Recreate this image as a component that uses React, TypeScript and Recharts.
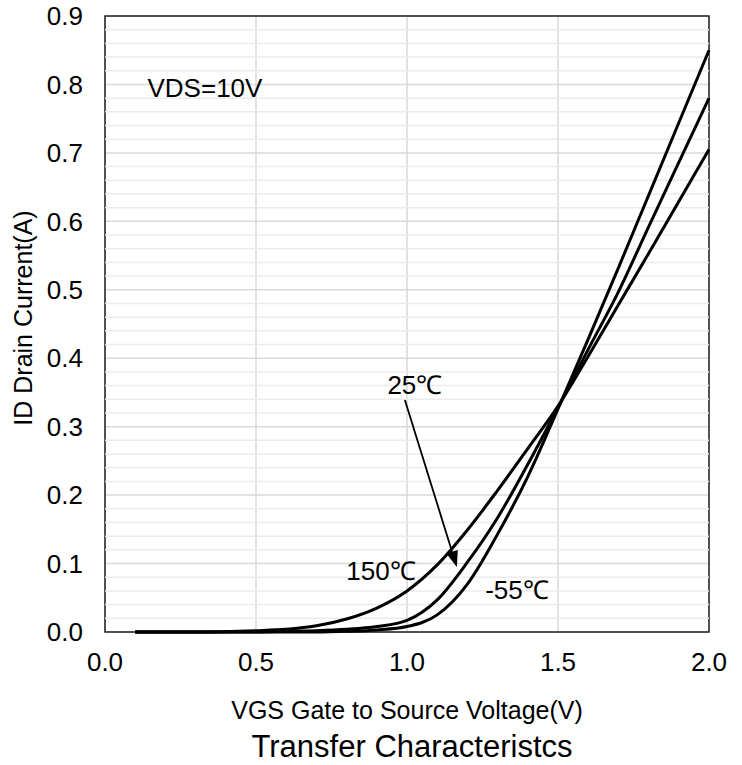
import React from 'react';
import {
  LineChart,
  Line,
  XAxis,
  YAxis,
  CartesianGrid,
  ReferenceLine,
  ReferenceDot,
  ReferenceArea,
} from 'recharts';

// gate voltage (V)
const vgs = [0.1, 0.3, 0.5, 0.6, 0.7, 0.8, 0.9, 1.0, 1.1, 1.2, 1.3, 1.4, 1.5, 1.6, 1.7, 1.8, 1.9, 2.0];
// drain current (A) per temperature
const id150 = [0, 0, 0.002, 0.004, 0.009, 0.019, 0.035, 0.06, 0.098, 0.149, 0.207, 0.268, 0.33, 0.403, 0.478, 0.553, 0.629, 0.705];
const id25 = [0, 0, 0, 0.001, 0.002, 0.004, 0.008, 0.017, 0.047, 0.102, 0.167, 0.245, 0.328, 0.413, 0.497, 0.592, 0.686, 0.78];
const idMinus55 = [0, 0, 0, 0, 0, 0.001, 0.003, 0.008, 0.025, 0.07, 0.143, 0.227, 0.326, 0.428, 0.532, 0.638, 0.744, 0.85];

const xTicks = [0, 0.5, 1.0, 1.5, 2.0];
const yTicks = [0, 0.1, 0.2, 0.3, 0.4, 0.5, 0.6, 0.7, 0.8, 0.9];
// light grid every 0.02 A
const minorY = Array.from({ length: 45 }, (_, i) => +(0.02 * (i + 1)).toFixed(2)).filter(
  (v) => Math.round(v * 100) % 10 !== 0
);

const data = vgs.map((v, i) => ({
  v,
  t150: id150[i],
  t25: id25[i],
  tm55: idMinus55[i],
}));

const FONT = '"Liberation Sans", Arial, sans-serif';

const labelText = (text: string, size = 25) => (p: any) => (
  <text
    x={p.cx}
    y={p.cy}
    textAnchor="middle"
    dominantBaseline="central"
    fontSize={size}
    fontFamily={FONT}
    fill="#000"
  >
    {text}
  </text>
);

const Arrow = (p: any) => {
  const { x1, y1, x2, y2 } = p;
  const ang = Math.atan2(y2 - y1, x2 - x1);
  const len = 16;
  const half = 6;
  const bx = x2 - len * Math.cos(ang);
  const by = y2 - len * Math.sin(ang);
  const nx = -Math.sin(ang) * half;
  const ny = Math.cos(ang) * half;
  return (
    <g>
      <line x1={x1} y1={y1} x2={bx} y2={by} stroke="#000" strokeWidth={1.8} />
      <polygon points={`${x2},${y2} ${bx + nx},${by + ny} ${bx - nx},${by - ny}`} fill="#000" />
    </g>
  );
};

export default function App() {
  return (
    <div style={{ position: 'absolute', left: 0, top: 0, width: 742, height: 765, background: '#fff', fontFamily: FONT }}>
      <LineChart width={742} height={765} data={data} margin={{ top: 16, right: 33, left: 0, bottom: 0 }}>
        {minorY.map((y) => (
          <ReferenceLine key={y} y={y} stroke="#ebebeb" strokeWidth={1.5} />
        ))}
        <CartesianGrid stroke="#d9d9d9" strokeWidth={1.5} />
        <XAxis
          dataKey="v"
          type="number"
          domain={[0, 2]}
          ticks={xTicks}
          tickFormatter={(v: number) => v.toFixed(1)}
          tickLine={false}
          axisLine={false}
          tickSize={0}
          tickMargin={21}
          height={133}
          tick={{ fontSize: 26, fill: '#000', fontFamily: FONT }}
        />
        <YAxis
          type="number"
          domain={[0, 0.9]}
          ticks={yTicks}
          tickFormatter={(v: number) => v.toFixed(1)}
          tickLine={false}
          axisLine={false}
          tickSize={0}
          tickMargin={22}
          width={105}
          tick={{ fontSize: 26, fill: '#000', fontFamily: FONT }}
        />
        <ReferenceArea x1={0} x2={2} y1={0} y2={0.9} fill="none" stroke="#222" strokeWidth={1.5} />
        <Line dataKey="t150" type="monotone" stroke="#000" strokeWidth={3} dot={false} isAnimationActive={false} />
        <Line dataKey="t25" type="monotone" stroke="#000" strokeWidth={3} dot={false} isAnimationActive={false} />
        <Line dataKey="tm55" type="monotone" stroke="#000" strokeWidth={3} dot={false} isAnimationActive={false} />
        <ReferenceLine
          segment={[
            { x: 0.993, y: 0.339 },
            { x: 1.165, y: 0.095 },
          ]}
          shape={Arrow}
        />
        <ReferenceDot x={0.331} y={0.795} r={0} shape={labelText('VDS=10V', 26)} />
        <ReferenceDot x={1.026} y={0.361} r={0} shape={labelText('25℃', 26)} />
        <ReferenceDot x={0.914} y={0.089} r={0} shape={labelText('150℃', 26)} />
        <ReferenceDot x={1.364} y={0.061} r={0} shape={labelText('-55℃', 26)} />
      </LineChart>
      <div
        style={{
          position: 'absolute',
          left: 23,
          top: 318,
          transform: 'translate(-50%, -50%) rotate(-90deg)',
          fontSize: 25,
          whiteSpace: 'nowrap',
          lineHeight: 1,
        }}
      >
        ID Drain Current(A)
      </div>
      <div
        style={{
          position: 'absolute',
          left: 407,
          top: 698,
          transform: 'translateX(-50%)',
          fontSize: 25,
          whiteSpace: 'nowrap',
          lineHeight: 1,
        }}
      >
        VGS Gate to Source Voltage(V)
      </div>
      <div
        style={{
          position: 'absolute',
          left: 412,
          top: 731,
          transform: 'translateX(-50%)',
          fontSize: 31,
          whiteSpace: 'nowrap',
          lineHeight: 1,
        }}
      >
        Transfer Characteristcs
      </div>
    </div>
  );
}
